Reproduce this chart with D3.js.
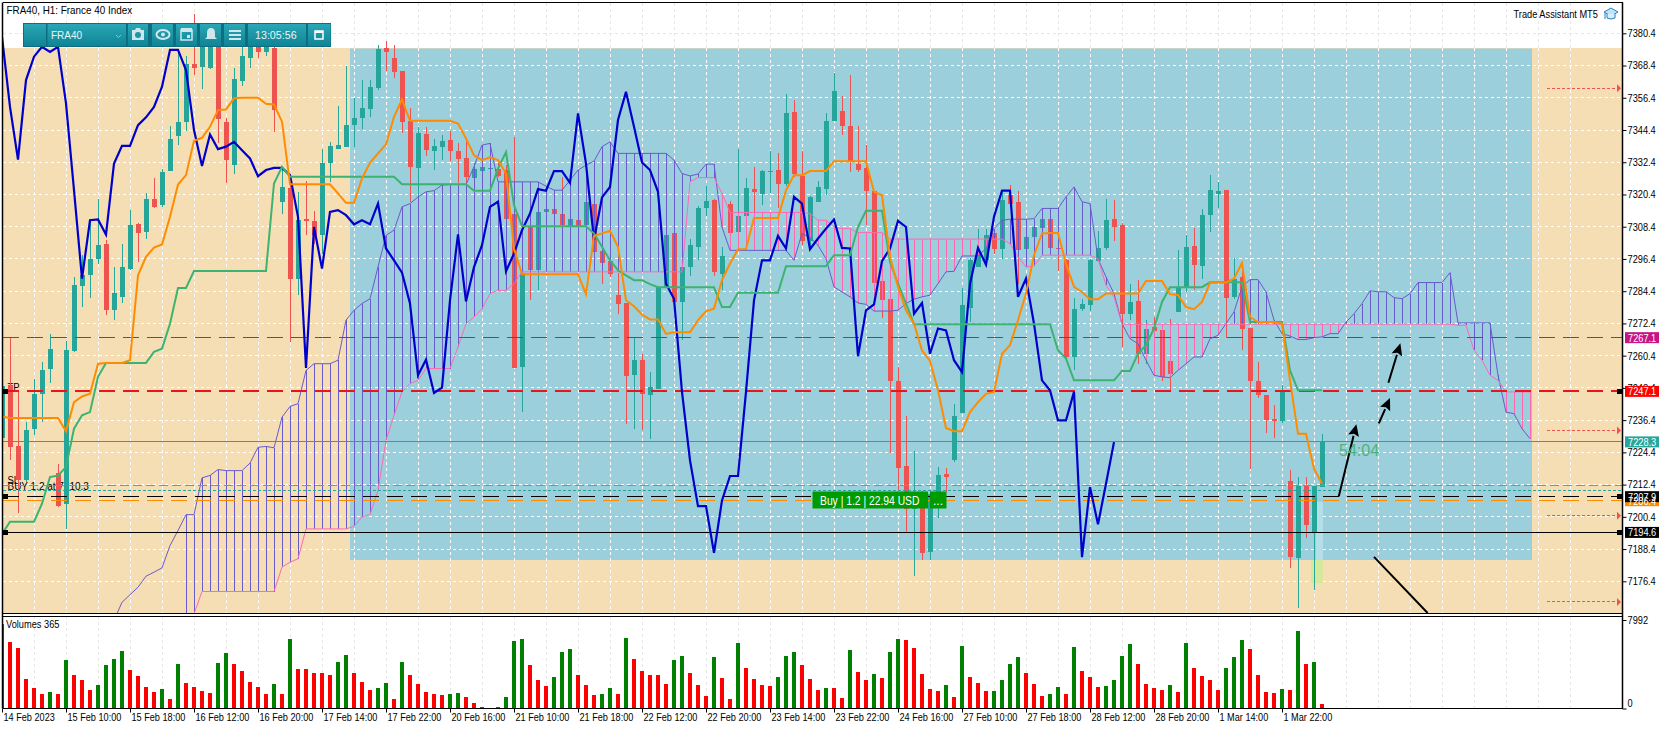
<!DOCTYPE html>
<html>
<head>
<meta charset="utf-8">
<script src="https://cdnjs.cloudflare.com/ajax/libs/d3/7.8.5/d3.min.js"></script>
<style>
  html, body { margin: 0; padding: 0; background: #fff; }
  svg { display: block; }
  text { font-family: "Liberation Sans", Arial, sans-serif; }
</style>
</head>
<body>
<div id="chart"></div>
<script>
// FRA40 H1 chart

// open, high, low, close for each hourly bar
const ohlc = [
[7229.6,7250,7228,7249],[7249.3,7267.4,7221.4,7226.4],[7226.6,7247,7201.8,7214.2],[7214,7235.7,7213.3,7232.6],
[7233,7251.8,7230.7,7246.2],[7246.2,7258,7235.7,7254.9],[7255.3,7268.6,7250.2,7263],[7216.7,7220.2,7204,7204.6],
[7205.3,7265.9,7195.9,7262.4],[7262.1,7289.7,7261.8,7286.6],[7286.4,7297.8,7278.5,7290.3],[7290.3,7310.8,7281.9,7296.5],
[7296.5,7318.7,7294.7,7301.5],[7301.9,7303.4,7275.4,7277.3],[7277.3,7293.4,7273.6,7283.9],[7282.3,7302.1,7280,7293.3],
[7292.6,7314.6,7292.2,7309],[7309.3,7309.8,7295.3,7306.1],[7306.4,7320.8,7304,7318.9],[7318.7,7326.4,7315.5,7315.8],
[7316.4,7329.7,7315.8,7328.7],[7329.2,7346,7329.2,7341],[7342.2,7374.2,7338.8,7347.3],[7347.5,7371.9,7344.1,7369],
[7369,7387.6,7364.9,7367.5],[7368,7380.4,7359.5,7377.3],[7367.5,7384,7367,7380],[7379,7384,7339.4,7348.5],
[7347.3,7349,7324.7,7333.2],[7331.3,7367.3,7328,7363.4],[7362.6,7378,7360.8,7371.9],[7371.1,7381,7367.3,7379],
[7377.3,7382,7371.3,7373.5],[7373.5,7381,7371.9,7377.3],[7375,7378,7343.7,7351.8],[7317.7,7330.7,7313.3,7323.1],
[7322.8,7327,7265.5,7288.8],[7288.8,7321.4,7282.9,7310.8],[7311.1,7325.5,7305.2,7310.5],[7310.5,7314.2,7302.1,7305.2],
[7305.2,7337.5,7298.4,7332.1],[7332.1,7340,7325.1,7338.4],[7337.4,7353.3,7337.3,7338.8],[7338.2,7368.2,7337.9,7346.2],
[7346.2,7356.5,7337.9,7348.8],[7348.8,7363,7344.6,7352.6],[7352.2,7363,7349.3,7360.4],[7360,7376,7359.3,7374.4],
[7374.9,7377.5,7366.5,7373.4],[7371.2,7376,7363.9,7366],[7366.3,7366.3,7343.4,7347.3],[7347.6,7352.7,7317.7,7330.7],
[7330.2,7345.6,7319.5,7343.2],[7342.9,7345.6,7334.8,7336.9],[7336.5,7341,7329.5,7338.4],[7338,7342.5,7333.1,7340.3],
[7340.6,7344,7332.8,7336.4],[7336.5,7339.4,7324.7,7333.6],[7333.9,7340.6,7324.7,7326.9],[7326.5,7332.3,7323.2,7329.8],
[7329.1,7331,7328.9,7330.6],[7329.8,7331,7329,7330.2],[7329.8,7332,7327,7327.2],[7329.5,7331.3,7310.8,7311.2],
[7313.1,7341.9,7255.7,7255.7],[7256.2,7291.5,7239.4,7291],[7308.3,7309,7281,7292.4],[7292.4,7314.5,7284.7,7313.8],
[7313.8,7316,7312.5,7314.9],[7314.9,7316,7312.5,7313.1],[7313.1,7327,7308.3,7309],[7308.3,7313,7307,7311.2],
[7310.8,7312,7307.5,7308.7],[7309,7318,7306,7317.5],[7317,7318,7296,7299],[7299.3,7300,7287.2,7294.8],
[7295.6,7299.6,7289.7,7290.7],[7282.9,7291,7276,7279.5],[7279.9,7279.9,7235,7252.7],[7253.1,7267,7233,7258.7],
[7258.9,7261.1,7232.6,7246],[7245.6,7254.2,7229.2,7248.7],[7248.1,7286.5,7248,7286],[7286,7306,7285.5,7305.5],
[7305.9,7306,7279,7280.4],[7280.4,7297.2,7266.1,7293.4],[7293.4,7303.8,7290,7301.5],[7300.8,7316.2,7295.9,7315.4],
[7315.3,7323.7,7312.3,7317.9],[7318.3,7318.8,7290,7291.5],[7290.7,7300.9,7284.7,7297.4],[7316.8,7317.9,7303.4,7306.1],
[7306.4,7337.5,7306,7312.3],[7312.4,7326.7,7312,7322.8],[7322.4,7330.5,7312,7321.3],[7320.5,7329.5,7316.4,7329.1],
[7328.8,7336.5,7320.8,7329.1],[7329.5,7335.8,7315.2,7324.2],[7324.2,7357.8,7323.5,7350.7],[7351.1,7355.5,7327,7328],
[7327.2,7336.5,7301.5,7303],[7303,7319.8,7300.9,7319.4],[7317.5,7325.4,7317.5,7323.1],[7322.4,7350.7,7320.1,7347.7],
[7347.7,7365.6,7347.7,7358.9],[7351.4,7357,7342.5,7345.9],[7345.9,7364.9,7328.7,7332.8],[7331.7,7345.9,7328.7,7329.5],
[7330.2,7338.8,7309,7321.6],[7321.6,7321.6,7286.6,7287.4],[7288.1,7288.1,7274.4,7281],[7281.4,7281.4,7224.1,7251],
[7250.8,7256.2,7210.2,7218.5],[7219.2,7237.8,7194.6,7203.4],[7203.4,7224.8,7178.2,7209],[7209,7210,7184.5,7186.9],
[7187.2,7210,7184.5,7209],[7207.7,7218.9,7200,7215.8],[7216.2,7218.5,7209.6,7215.1],[7221.4,7242.3,7220.8,7237.8],
[7239,7285.4,7239,7279.2],[7278.3,7296.6,7272.9,7296],[7293.4,7307.5,7293.4,7299],[7295.9,7307.7,7294,7305.2],
[7305.9,7306,7298.4,7300],[7300,7321.4,7296.2,7318.3],[7320.1,7323.9,7315.8,7316.8],[7317.5,7321.6,7287.2,7299.6],
[7300,7305,7298,7304.5],[7304.5,7309,7303,7308.2],[7307.8,7312,7306,7311.2],[7311.2,7312,7299,7300.4],
[7300.4,7301,7291.8,7300],[7296,7296.5,7259,7259.8],[7259.8,7281.9,7255,7277.7],[7277.7,7281.6,7277,7279.5],
[7279.2,7296.2,7277,7296],[7295.6,7306.9,7295.3,7300.4],[7300.4,7318.7,7299.6,7310.8],[7311.2,7318.3,7303,7308.3],
[7309,7309.6,7263.6,7275.8],[7275.8,7287,7273.6,7280.3],[7280.6,7288.7,7257.4,7261.1],[7261.1,7273.8,7257.4,7270.5],
[7271.1,7274.8,7268.6,7269.6],[7270.1,7271,7251,7252.5],[7258.3,7274.2,7247.5,7253.7],[7276.7,7299.7,7276.7,7285.4],
[7286,7305.2,7284.1,7300.8],[7301.1,7308,7284.7,7294.1],[7293.8,7314.9,7289.1,7312.7],[7312.7,7327.6,7306.4,7322],
[7320.5,7325,7315.3,7321.6],[7322,7322,7267.1,7281.9],[7282.3,7296.8,7281.6,7289.1],[7289.5,7293.4,7262.4,7270.3],
[7270.6,7270.6,7218.3,7251],[7250.8,7258,7244.8,7245.6],[7245.6,7245.8,7231.6,7236.3],[7236.7,7241.9,7229.7,7236.2],
[7236,7249.3,7235.3,7246.9],[7213.6,7217.7,7181.3,7185.4],[7184.9,7215.2,7166.4,7211.7],[7211.7,7215.2,7192.5,7197.2],
[7194.4,7211.7,7173,7211.7],[7211.5,7231.3,7211.5,7228.3]
];

// tick volume per bar
const volumes = [
7630,6000,5460,2654,1840,1297,1478,1297,4373,3016,2564,1659,2111,3921,4464,5188,3468,2926,1930,1478,
1749,844,4011,2292,1930,1568,1387,4102,5007,4011,3378,2383,1930,1297,2202,1297,6273,3559,3559,3197,
3197,3016,4192,4826,3197,2383,1659,1840,2292,844,4192,3016,2202,1478,1297,1206,1297,1387,1025,483,
121,0,121,1025,6092,6273,3921,2564,2021,2835,5097,5368,3016,2111,1206,1297,1840,1297,6364,4464,
3378,3016,3016,2202,4373,4735,3197,2111,1116,4645,2745,844,5911,3649,2654,2111,2021,2835,4735,5097,
3921,2654,1659,1840,1840,935,5278,3287,2564,3106,2745,5097,6273,6183,5459,3106,1749,1568,2111,1025,
5640,2835,2292,1568,1600,2564,4011,4645,3197,2202,1116,1297,1930,1297,5549,3378,2835,1930,2021,2564,
4735,5821,4011,2202,1840,1659,2111,1478,5911,3649,2926,2564,1659,3649,4645,6183,5368,3016,1478,1387,
1749,1659,6997,4011,4192,392
];

// ichimoku lines, tenkan and kijun start at bar 0
const tenkan = [
7237.8,7237.2,7237.2,7237.2,7237.2,7237.2,7237.2,7237.2,7232.3,7243.1,7245.2,7246.2,7257.4,7257.7,7257.7,7257.7,7258.7,7290.3,7297.2,7300.6,
7301.8,7312.1,7324.1,7327.6,7340.4,7341.5,7345.6,7351.8,7352,7356.2,7356.4,7356.4,7356.4,7354.2,7353.9,7347.5,7324.2,7324.2,7324.2,7324.2,
7324.2,7324.2,7320.8,7317.3,7317.3,7326.4,7332.2,7335.7,7339,7349.3,7355.8,7347.8,7347.8,7347.8,7347.8,7347.8,7347.8,7346.8,7341.3,7335,
7333.2,7334.2,7333.2,7328.2,7300.3,7290.7,7290.7,7290.7,7290.7,7290.7,7290.7,7290.7,7290.7,7283.3,7304.9,7305.9,7306.9,7300.9,7281,7278.8,
7275.7,7273.9,7273.9,7268.5,7269.1,7269.1,7269.1,7273.6,7276.9,7277.9,7288.5,7294.7,7300,7300.1,7311.6,7311.6,7311.6,7311.6,7322,7327.6,
7327.6,7329.1,7329.1,7329.1,7332.8,7332.8,7332.8,7332.8,7332.8,7321.4,7320.1,7297.2,7286,7277.3,7272.3,7262.4,7258.4,7247.5,7233.5,7232.3,
7232.3,7239.4,7243.1,7246.2,7246.9,7261.1,7264.3,7273.6,7283.5,7297.8,7305.9,7306.1,7306.1,7294.7,7286,7284.1,7281.4,7281.4,7283.5,7283.5,
7283.5,7283.5,7283.5,7288.2,7288.2,7288.2,7283.3,7283,7278.5,7277.7,7280.4,7287.5,7287.6,7287.6,7289.1,7294.9,7274.8,7272.9,7272.9,7272.9,
7272.3,7251.2,7231.3,7231.3,7218.3,7212.7
];
const kijun = [
7194,7198.6,7198.6,7198.6,7198.6,7205.3,7215.2,7215.8,7218.9,7233.2,7238.2,7239.4,7252.5,7257.7,7257.7,7257.7,7257.7,7257.7,7257.7,7261.8,
7263,7272.3,7285.6,7285.6,7291.9,7291.9,7291.9,7291.9,7291.9,7291.9,7291.9,7291.9,7291.9,7291.9,7324.5,7330.7,7327,7327,7327,7327,
7327,7327,7327,7327,7327,7327,7327,7327,7327,7327,7324.2,7324.2,7324.2,7324.2,7324.2,7324.2,7324.2,7324.2,7324.2,7321.8,
7321.8,7321.8,7330,7336.2,7316.4,7308.6,7308.6,7308.6,7308.6,7308.6,7308.6,7308.6,7308.6,7308.6,7305.9,7300.9,7295.9,7292.2,7290.3,7288.5,
7288.5,7287,7285.9,7285.9,7285.9,7285.9,7285.9,7285.9,7285.9,7285.9,7278.5,7278.5,7283.8,7283.8,7283.8,7283.8,7283.8,7283.8,7293.7,7293.7,
7293.7,7293.7,7293.7,7293.7,7297.8,7297.8,7297.8,7308.3,7314.3,7314.3,7314.3,7295.3,7287.2,7279.8,7272.1,7272.1,7272.1,7272.1,7272.1,7272.1,
7272.1,7272.1,7272.1,7272.1,7272.1,7272.1,7272.1,7272.1,7272.1,7272.1,7272.1,7272.1,7262.4,7259.3,7251.2,7251.2,7251.2,7251.2,7251.2,7251.2,
7254.7,7254.7,7261.1,7264.3,7270.5,7280.4,7285.9,7285.9,7285.9,7285.9,7285.9,7287.7,7287.7,7287.7,7287.7,7287.7,7272.9,7272.9,7272.9,7272.9,
7272.9,7254.9,7247.5,7247.5,7247.5,7247.5
];
const chikou = [
7379.1,7353,7333.4,7363,7371.7,7375.4,7373.5,7375.4,7354.3,7322,7289.1,7310.8,7311.1,7305.5,7331.9,7338.5,7338.5,7346.2,7349.1,7353,
7360.5,7374.2,7374.2,7366.7,7344.4,7331,7342.7,7337.3,7338.2,7340,7336.9,7333.8,7327.2,7329.5,7330.3,7330.3,7327.6,7312.1,7255.8,7308.3,
7292.8,7313.9,7314.6,7312.7,7309.3,7310.8,7309.3,7317,7300.3,7295.9,7291.3,7279.8,7253.1,7258.9,7246.5,7248.5,7281,7305.5,7280.6,7293.4,
7301.5,7315.8,7317.7,7291.8,7298.4,7307.1,7313.3,7322.4,7321.8,7329.1,7329.1,7324.7,7350.6,7331.9,7303.4,7319.3,7323.2,7348.1,7358.6,7345.6,
7332.3,7329.5,7321.4,7287.2,7281.6,7246.9,7221.4,7204.4,7204.4,7187,7206.5,7215.6,7215.6,7246.9,7281,7295.9,7295.9,7305,7300.3,7319.5,
7317,7300,7304,7307.7,7311.1,7300.5,7300.3,7260.2,7277.3,7279.5,7295.6,7300.3,7310.6,7308.3,7276,7280,7261.1,7270.5,7269.8,7258.7,
7254.3,7287.2,7300.5,7294.3,7312.1,7321.8,7321.8,7282.3,7289.1,7272.3,7251.2,7247.5,7236.3,7236.3,7246.9,7185.4,7211.5,7197.6,7212.7,7228.2
];
// senkou span A starts at bar 14, span B at bar 23, both run 26 bars past the last candle
const senkouAStart = 14;
const senkouA = [
7161.8,7168.6,7171.4,7174.2,7178.3,7179.8,7181.4,7189.7,7195.3,7201.2,7201.2,7214.9,7215.8,7218,7217.6,7217.6,7217.6,7220.4,7226.3,7226.6,
7226.1,7237.5,7241.5,7242.5,7254.9,7257.4,7257.4,7257.4,7258.7,7273.6,7277.3,7279.8,7281.6,7293.4,7305.2,7307.1,7315.8,7317,7319.5,7321.4,
7321.8,7323.9,7324.1,7324.1,7324.1,7330.7,7338.8,7339.4,7325.1,7325.1,7325.1,7325.1,7325.1,7325.1,7323.5,7322,7322,7325.7,7329.5,7331.3,
7332.8,7338.2,7340,7335.7,7335.7,7335.7,7335.7,7335.7,7335.7,7335.7,7333.2,7328.2,7327.3,7328,7331.7,7331.7,7308.3,7299.6,7299.6,7299.6,
7299.6,7299.6,7299.6,7299.6,7299.6,7295.9,7305.9,7304.4,7301.5,7296.5,7286,7284.1,7282.3,7280,7279.5,7277,7277,7277,7277.3,7279.8,
7281.4,7282.3,7282.9,7287.2,7291.6,7291.8,7297.5,7297.5,7297.5,7300.3,7307.7,7310.8,7311.2,7311.2,7311.2,7311.4,7315.2,7315.2,7315.2,7319.5,
7323.2,7317.7,7317,7296.5,7289.7,7283.5,7272.3,7266.7,7264.9,7258.7,7253.1,7252.5,7252.2,7254.9,7257.4,7259.9,7259.9,7266.7,7268,7272.3,
7276.7,7286,7288.7,7288.7,7284.1,7273.6,7268.6,7267.7,7266.4,7266.4,7267.1,7267.4,7268.6,7268.6,7272.9,7276,7279.8,7284.5,7284.2,7284.2,
7282,7281.6,7283.5,7287.6,7287.6,7287.6,7287.6,7291.3,7272.6,7272.6,7272.6,7272.6,7272.6,7253.1,7239.4,7238.8,7233.2,7229.5
];
const senkouBStart = 23;
const senkouB = [
7156.8,7164.3,7172.6,7172.6,7172.6,7172.6,7172.6,7172.6,7172.6,7172.6,7172.6,7172.6,7181.7,7183.5,7184.8,7195.9,7195.9,7195.9,7195.9,7195.9,
7195.9,7196.9,7200.3,7201.3,7210.2,7228.9,7238.2,7246.9,7250,7251.2,7255.6,7255.6,7255.6,7255.6,7263.6,7272.3,7274.8,7277.9,7283.5,7284.7,
7284.7,7287.2,7291.6,7291.6,7291.6,7291.6,7291.6,7291.6,7291.6,7291.6,7291.6,7291.6,7291.6,7291.6,7291.6,7291.6,7291.6,7291.6,7291.6,7291.6,
7291.6,7291.6,7291.6,7325.1,7326.7,7326.7,7326.7,7320.8,7313.7,7313.7,7313.7,7313.7,7313.7,7313.7,7313.7,7313.7,7313.7,7313.7,7313.3,7310.8,
7310.8,7308.3,7307.7,7307.7,7306.2,7306.2,7306.2,7306.2,7303.8,7303.8,7303.8,7303.8,7303.8,7303.8,7303.8,7303.8,7303.8,7303.8,7303.8,7303.8,
7303.8,7303.8,7303.8,7302.1,7297.2,7293.4,7293.8,7297.8,7297.8,7297.8,7297.8,7297.8,7297.8,7297.8,7296.5,7286.6,7282.3,7272.1,7272.1,7272.1,
7272.1,7272.1,7272.1,7272.1,7272.1,7272.1,7272.1,7272.1,7272.1,7272.1,7272.1,7272.1,7272.1,7272.1,7272.1,7272.1,7272.1,7272.1,7272.1,7272.1,
7272.1,7272.1,7272.1,7272.1,7272.1,7272.1,7272.1,7272.1,7272.1,7272.1,7272.1,7272.1,7272.1,7272.1,7272.1,7272.1,7272.1,7272.1,7272.1,7271.7,
7271.7,7262.4,7258.7,7253.1,7251.2,7246.9,7246.9,7246.9,7246.9
];

const priceTicks = [7380.4,7368.4,7356.4,7344.4,7332.4,7320.4,7308.4,7296.4,7284.4,7272.4,7260.4,7248.4,7236.4,7224.4,7212.4,7200.4,7188.4,7176.4];
const timeLabels = ["14 Feb 2023","15 Feb 10:00","15 Feb 18:00","16 Feb 12:00","16 Feb 20:00","17 Feb 14:00","17 Feb 22:00","20 Feb 16:00","21 Feb 10:00","21 Feb 18:00","22 Feb 12:00","22 Feb 20:00","23 Feb 14:00","23 Feb 22:00","24 Feb 16:00","27 Feb 10:00","27 Feb 18:00","28 Feb 12:00","28 Feb 20:00","1 Mar 14:00","1 Mar 22:00"];

// right side price tags
const tagPrices = [7267.1,7247.1,7228.3,7206.4,7207.9,7194.6];
const tagColors = ["#c71585","#ff0000","#26a69a","#ff8c00","#000000","#000000"];
// order lines drawn across the chart
const linePrices = [7267.1,7247.1,7228.3,7212.1,7210.2,7207.9,7206.4,7194.6];
const lineColors = ["#c71585","#e8141e","#26a69a","#e46a5f","#26a69a","#000000","#ff8c00","#000000"];
const lineDashes = ["16,8","16,8",null,"9,4","3,2","16,8","16,8",null];
const lineWidths = [1,2,1,1,1,1,1,1];
// small red arrows past the last bar
const alertPrices = [7359.9,7232.5,7200.8,7168.7];
// trend arrows: from bar, from price, to bar, to price
const arrowsFrom = [[167.1,7208.1],[172.1,7235.2],[173.3,7250.3]];
const arrowsTo = [[169.3,7234.9],[173.5,7244.6],[174.8,7265]];
const downLine = [[171.5,7185.5],[178.2,7164.6]];

const width = 1670, height = 729;
const left = 2.5, right = 1622.5, plotTop = 2.5, mainBottom = 613, volTop = 616, volBottom = 708.5;

let svg = d3.select("#chart").append("svg")
    .attr("width", width)
    .attr("height", height);

let xScale = d3.scaleLinear().domain([0, 160]).range([2, 1282]);
let yScale = d3.scaleLinear().domain([7176.4, 7380.4]).range([581.3, 33.3]);
let volScale = d3.scaleLinear().domain([0, 7992]).range([volBottom, 620]);

// the terminal font runs narrower than Liberation Sans, so pull the labels in
function squeeze(sel, k) {
    sel.each(function() {
        d3.select(this)
            .attr("textLength", this.getComputedTextLength() * k)
            .attr("lengthAdjust", "spacingAndGlyphs");
    });
    return sel;
}

svg.append("defs").append("clipPath").attr("id", "main-clip")
    .append("rect").attr("x", left).attr("y", plotTop)
    .attr("width", right - left).attr("height", mainBottom - plotTop);
svg.select("defs").append("clipPath").attr("id", "vol-clip")
    .append("rect").attr("x", left).attr("y", volTop)
    .attr("width", right - left).attr("height", volBottom - volTop);

let main = svg.append("g").attr("clip-path", "url(#main-clip)");

// background zones
main.append("rect").attr("x", left).attr("y", 48)
    .attr("width", right - left).attr("height", mainBottom - 48).attr("fill", "#f5deb3");
main.append("rect").attr("x", 350).attr("y", 48.5)
    .attr("width", 1532 - 350).attr("height", 560 - 48.5).attr("fill", "#9bcfdb");

// grid, grey on white and white on the zones
let gridX = d3.range(0, 200, 4).map(xScale).filter(d => d > left && d < right);
main.selectAll(".vgrid").data(gridX).enter().append("line")
    .attr("x1", d => d).attr("x2", d => d).attr("y1", plotTop).attr("y2", 48)
    .attr("stroke", "#e6e6e6").attr("stroke-dasharray", "3,3").attr("shape-rendering", "crispEdges");
main.selectAll(".vgrid2").data(gridX).enter().append("line")
    .attr("x1", d => d).attr("x2", d => d).attr("y1", 48).attr("y2", mainBottom)
    .attr("stroke", "#ffffff").attr("stroke-dasharray", "3,3").attr("shape-rendering", "crispEdges");
main.selectAll(".hgrid").data(priceTicks).enter().append("line")
    .attr("x1", left).attr("x2", right).attr("y1", d => yScale(d)).attr("y2", d => yScale(d))
    .attr("stroke", d => yScale(d) < 48 ? "#e6e6e6" : "#ffffff")
    .attr("stroke-dasharray", "3,3").attr("shape-rendering", "crispEdges");
svg.selectAll(".volgrid").data(gridX).enter().append("line")
    .attr("x1", d => d).attr("x2", d => d).attr("y1", volTop).attr("y2", volBottom)
    .attr("stroke", "#e6e6e6").attr("stroke-dasharray", "3,3").attr("shape-rendering", "crispEdges");

// forming bar range shading
main.append("rect").attr("x", xScale(165) - 6).attr("y", yScale(7206)).attr("width", 7)
    .attr("height", 560 - yScale(7206)).attr("fill", "#b4deea");
main.append("rect").attr("x", xScale(165) - 11).attr("y", 560).attr("width", 12)
    .attr("height", 23).attr("fill", "#d6e89b");

// order labels sit under the candles
const fontSize = 10.5;
squeeze(main.append("text").attr("x", 7.5).attr("y", 391).attr("font-size", fontSize).text("TP"), 0.9);
squeeze(main.append("text").attr("x", 7.5).attr("y", 484).attr("font-size", fontSize).text("SL"), 0.9);
squeeze(main.append("text").attr("x", 7.5).attr("y", 489.5).attr("font-size", fontSize).text("BUY 1.2 at 7210.3"), 0.95);

// candles
let candles = main.append("g");
candles.selectAll("line").data(ohlc).enter().append("line")
    .attr("x1", (d, i) => xScale(i)).attr("x2", (d, i) => xScale(i))
    .attr("y1", d => yScale(d[1])).attr("y2", d => yScale(d[2]))
    .attr("stroke", d => d[3] >= d[0] ? "#26a69a" : "#ef5350")
    .attr("shape-rendering", "crispEdges");
candles.selectAll("rect").data(ohlc).enter().append("rect")
    .attr("x", (d, i) => xScale(i) - 2.5)
    .attr("y", d => yScale(Math.max(d[0], d[3])))
    .attr("width", 5)
    .attr("height", d => Math.max(1, Math.abs(yScale(d[0]) - yScale(d[3]))))
    .attr("fill", d => d[3] >= d[0] ? "#26a69a" : "#ef5350")
    .attr("shape-rendering", "crispEdges");

// cloud hatching, one stroke per bar between the two spans
let cloudBars = d3.range(senkouBStart, senkouAStart + senkouA.length);
main.selectAll(".hatch").data(cloudBars).enter().append("line")
    .attr("x1", d => xScale(d)).attr("x2", d => xScale(d))
    .attr("y1", d => yScale(senkouA[d - senkouAStart]))
    .attr("y2", d => yScale(senkouB[d - senkouBStart]))
    .attr("stroke", d => senkouA[d - senkouAStart] >= senkouB[d - senkouBStart] ? "#6a5acd" : "#ff69b4")
    .attr("shape-rendering", "crispEdges");

function drawLine(values, start, color, w) {
    let line = d3.line().x((d, i) => xScale(i + start)).y(d => yScale(d));
    main.append("path").datum(values)
        .attr("d", line).attr("fill", "none")
        .attr("stroke", color).attr("stroke-width", w).attr("stroke-linejoin", "miter");
}
drawLine(senkouA, senkouAStart, "#6a5acd", 1);
drawLine(senkouB, senkouBStart, "#ff69b4", 1);

// order lines
main.selectAll(".order").data(linePrices).enter().append("line")
    .attr("x1", left).attr("x2", right)
    .attr("y1", d => yScale(d)).attr("y2", d => yScale(d))
    .attr("stroke", (d, i) => lineColors[i])
    .attr("stroke-width", (d, i) => lineWidths[i])
    .attr("stroke-dasharray", (d, i) => lineDashes[i])
    .attr("shape-rendering", "crispEdges");

drawLine(chikou, 0, "#0000cd", 2.2);
drawLine(kijun, 0, "#3cb371", 2);
drawLine(tenkan, 0, "#ff8c00", 2);

// alert arrows on the right
main.selectAll(".alert").data(alertPrices).enter().append("line")
    .attr("x1", 1547).attr("x2", 1618)
    .attr("y1", d => yScale(d)).attr("y2", d => yScale(d))
    .attr("stroke", "#ef5350").attr("stroke-dasharray", "3,2").attr("shape-rendering", "crispEdges");
main.selectAll(".alerthead").data(alertPrices).enter().append("path")
    .attr("d", d => `M1617,${yScale(d) - 4}L1621,${yScale(d)}L1617,${yScale(d) + 4}Z`)
    .attr("fill", "#ef5350");

// hand drawn arrows
arrowsFrom.forEach((a, i) => {
    let x1 = xScale(a[0]), y1 = yScale(a[1]), x2 = xScale(arrowsTo[i][0]), y2 = yScale(arrowsTo[i][1]);
    let ang = Math.atan2(y2 - y1, x2 - x1);
    let bx = x2 - 12 * Math.cos(ang), by = y2 - 12 * Math.sin(ang);
    main.append("line").attr("x1", x1).attr("y1", y1).attr("x2", bx).attr("y2", by)
        .attr("stroke", "#000").attr("stroke-width", 2);
    let nx = -Math.sin(ang) * 5.5, ny = Math.cos(ang) * 5.5;
    main.append("path")
        .attr("d", `M${x2},${y2}L${bx + nx},${by + ny}L${bx + 2 * Math.cos(ang)},${by + 2 * Math.sin(ang)}L${bx - nx},${by - ny}Z`)
        .attr("fill", "#000");
});
main.append("line")
    .attr("x1", xScale(downLine[0][0])).attr("y1", yScale(downLine[0][1]))
    .attr("x2", xScale(downLine[1][0])).attr("y2", yScale(downLine[1][1]))
    .attr("stroke", "#000").attr("stroke-width", 2);

// line anchors
[[5, 7247.1], [5, 7207.9], [5, 7194.6], [1619.5, 7247.1], [1619.5, 7207.9], [1619.5, 7194.6]].forEach(d => {
    main.append("rect").attr("x", d[0] - 2.5).attr("y", yScale(d[1]) - 2.5).attr("width", 5).attr("height", 5)
        .attr("fill", "#000").attr("shape-rendering", "crispEdges");
});

// text on the chart
squeeze(svg.append("text").attr("x", 6.5).attr("y", 13.5).attr("font-size", fontSize).text("FRA40, H1:  France 40 Index"), 0.94);
squeeze(svg.append("text").attr("x", 1513.5).attr("y", 17.5).attr("font-size", fontSize).text("Trade Assistant MT5"), 0.88);
main.append("text").attr("x", 1339).attr("y", 456).attr("font-size", 16).attr("fill", "#4fb37a").text("54:04");

// buy label
main.append("rect").attr("x", 812.5).attr("y", 491.5).attr("width", 115.5).attr("height", 17).attr("fill", "#009b00");
main.append("rect").attr("x", 930).attr("y", 491.5).attr("width", 16.5).attr("height", 17).attr("fill", "#009b00");
squeeze(main.append("text").attr("x", 820).attr("y", 504.5).attr("font-size", 12).attr("fill", "#fff").text("Buy | 1.2 | 22.94 USD"), 0.86);
main.append("text").attr("x", 938).attr("y", 504.5).attr("font-size", 12).attr("text-anchor", "middle").attr("fill", "#fff").text("...");

// mortar board icon
let cap = svg.append("g").attr("transform", "translate(1604,8)");
cap.append("path").attr("d", "M0,4L7,0L14,4L7,8Z").attr("fill", "#bfe3f7").attr("stroke", "#2a7fc0");
cap.append("path").attr("d", "M3,6V10Q7,12 11,10V6").attr("fill", "#d7eefb").attr("stroke", "#2a7fc0");
cap.append("path").attr("d", "M1,5V11").attr("stroke", "#2a7fc0");

// toolbar
let bar = svg.append("g");
let grad = svg.select("defs").append("linearGradient").attr("id", "tool").attr("x1", 0).attr("x2", 0).attr("y1", 0).attr("y2", 1);
grad.append("stop").attr("offset", 0).attr("stop-color", "#2aa7b6");
grad.append("stop").attr("offset", 1).attr("stop-color", "#0f8496");
bar.append("rect").attr("x", 23).attr("y", 23).attr("width", 308).attr("height", 24).attr("fill", "#0c6e7e");
[[24,22],[47.5,78.5],[128,20],[152,21],[176,21],[200,21],[224,21],[248,58],[308,22.5]].forEach(c => {
    bar.append("rect").attr("x", c[0]).attr("y", 24).attr("width", c[1]).attr("height", 22).attr("fill", "url(#tool)");
});
squeeze(bar.append("text").attr("x", 51).attr("y", 39).attr("font-size", 11.5).attr("fill", "#e6f6f8").text("FRA40"), 0.87);
bar.append("path").attr("d", "M116,35l2.5,2.5l2.5,-2.5").attr("fill", "none").attr("stroke", "#7fcdd8");
squeeze(bar.append("text").attr("x", 255).attr("y", 39).attr("font-size", 11.5).attr("fill", "#e6f6f8").text("13:05:56"), 0.93);
const iconCol = "#cfe6ea";
bar.append("path").attr("d", "M132,30h3l1,-2h4l1,2h3v10h-12Z").attr("fill", iconCol);
bar.append("circle").attr("cx", 138).attr("cy", 35).attr("r", 3).attr("fill", "#1c97a8");
bar.append("ellipse").attr("cx", 163).attr("cy", 34.5).attr("rx", 6.5).attr("ry", 4.5).attr("fill", "none").attr("stroke", iconCol).attr("stroke-width", 2);
bar.append("circle").attr("cx", 163).attr("cy", 34.5).attr("r", 2).attr("fill", iconCol);
bar.append("rect").attr("x", 181).attr("y", 30).attr("width", 11).attr("height", 10).attr("fill", "none").attr("stroke", iconCol).attr("stroke-width", 1.5);
bar.append("path").attr("d", "M181,28h11v4h-11Z").attr("fill", iconCol);
bar.append("rect").attr("x", 187).attr("y", 35).attr("width", 3).attr("height", 3).attr("fill", iconCol);
bar.append("path").attr("d", "M211,28q4,0 4,5v4l2,2h-12l2,-2v-4q0,-5 4,-5Z").attr("fill", iconCol);
bar.append("rect").attr("x", 229).attr("y", 30).attr("width", 12).attr("height", 2).attr("fill", iconCol);
bar.append("rect").attr("x", 229).attr("y", 34).attr("width", 12).attr("height", 2).attr("fill", iconCol);
bar.append("rect").attr("x", 229).attr("y", 38).attr("width", 12).attr("height", 2).attr("fill", iconCol);
bar.append("rect").attr("x", 315).attr("y", 31).attr("width", 8).attr("height", 8).attr("fill", "none").attr("stroke", "#fff").attr("stroke-width", 1.5);
bar.append("rect").attr("x", 315).attr("y", 31).attr("width", 8).attr("height", 2).attr("fill", "#fff");

// volume bars, green when the volume rose against the previous bar
svg.append("g").attr("clip-path", "url(#vol-clip)").selectAll("rect").data(volumes).enter().append("rect")
    .attr("x", (d, i) => xScale(i) - 2)
    .attr("y", d => volScale(d))
    .attr("width", 4)
    .attr("height", d => volBottom - volScale(d))
    .attr("fill", (d, i) => i === 0 || d > volumes[i - 1] ? "#008000" : "#ff0000")
    .attr("shape-rendering", "crispEdges");
squeeze(svg.append("text").attr("x", 6).attr("y", 628).attr("font-size", fontSize).text("Volumes 365"), 0.88);

// frames
[[left, plotTop, right, plotTop], [left, mainBottom, right, mainBottom], [left, volTop, right, volTop],
 [left, volBottom, right, volBottom]].forEach(d => {
    svg.append("line").attr("x1", d[0]).attr("y1", d[1]).attr("x2", d[2]).attr("y2", d[3])
        .attr("stroke", "#000").attr("shape-rendering", "crispEdges");
});
[[left, plotTop, left, volBottom], [right, plotTop, right, volBottom]].forEach(d => {
    svg.append("line").attr("x1", d[0]).attr("y1", d[1]).attr("x2", d[2]).attr("y2", d[3])
        .attr("stroke", "#000").attr("stroke-width", 1.5);
});

// axes
let priceAxis = d3.axisRight(yScale).tickValues(priceTicks).tickFormat(d3.format(".1f")).tickSize(4).tickPadding(1);
let yAxisG = svg.append("g").attr("transform", `translate(${right},0)`).call(priceAxis);
yAxisG.select(".domain").remove();
squeeze(yAxisG.selectAll("text").attr("font-size", fontSize).attr("font-family", "Liberation Sans").attr("fill", "#000"), 0.88);

let volAxis = d3.axisRight(volScale).tickValues([0, 7992]).tickFormat(d3.format("d")).tickSize(4).tickPadding(1);
let vAxisG = svg.append("g").attr("transform", `translate(${right},0)`).call(volAxis);
vAxisG.select(".domain").remove();
squeeze(vAxisG.selectAll("text").attr("font-size", fontSize).attr("font-family", "Liberation Sans").attr("fill", "#000"), 0.88);
vAxisG.selectAll(".tick").filter(d => d === 0).select("text").attr("dy", "-0.2em");

let timeAxis = d3.axisBottom(xScale)
    .tickValues(d3.range(0, 161, 8))
    .tickFormat((d, i) => timeLabels[i])
    .tickSize(4).tickPadding(1);
let xAxisG = svg.append("g").attr("transform", `translate(0,${volBottom})`).call(timeAxis);
xAxisG.select(".domain").remove();
squeeze(xAxisG.selectAll("text").attr("font-size", fontSize).attr("font-family", "Liberation Sans")
    .attr("text-anchor", "start").attr("x", 1).attr("fill", "#000"), 0.87);

// price tags over the axis
let tags = svg.append("g");
tags.selectAll("rect").data(tagPrices).enter().append("rect")
    .attr("x", 1625).attr("y", d => yScale(d) - 5.5).attr("width", 34).attr("height", 11)
    .attr("fill", (d, i) => tagColors[i]);
squeeze(tags.selectAll("text").data(tagPrices).enter().append("text")
    .attr("x", 1628).attr("y", d => yScale(d) + 4).attr("font-size", fontSize)
    .attr("fill", "#fff").text(d => d.toFixed(1)), 0.88);
</script>
</body>
</html>
